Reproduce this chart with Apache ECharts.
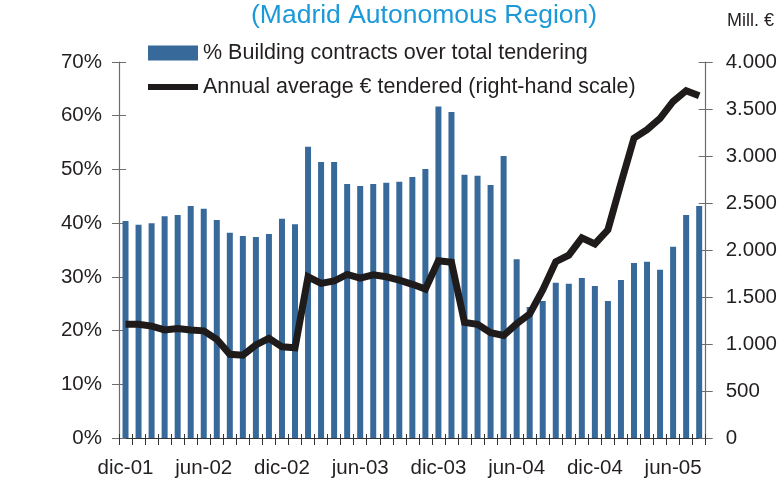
<!DOCTYPE html>
<html>
<head>
<meta charset="utf-8">
<script src="https://cdn.jsdelivr.net/npm/echarts@6/dist/echarts.min.js"></script>
<style>
html,body{margin:0;padding:0;background:#fff;}
#c{width:780px;height:481px;}
</style>
</head>
<body>
<div id="c"></div>
<script>
var categories = ['dic-01','ene-02','feb-02','mar-02','abr-02','may-02','jun-02','jul-02','ago-02','sep-02','oct-02','nov-02',
  'dic-02','ene-03','feb-03','mar-03','abr-03','may-03','jun-03','jul-03','ago-03','sep-03','oct-03','nov-03',
  'dic-03','ene-04','feb-04','mar-04','abr-04','may-04','jun-04','jul-04','ago-04','sep-04','oct-04','nov-04',
  'dic-04','ene-05','feb-05','mar-05','abr-05','may-05','jun-05','jul-05','ago-05'];
var pctBuilding = [40.4,39.7,40.0,41.3,41.5,43.2,42.7,40.6,38.2,37.6,37.4,38.0,40.8,39.8,54.2,51.4,
  51.4,47.3,46.9,47.3,47.5,47.7,48.6,50.1,61.7,60.7,49.0,48.8,47.1,52.5,
  33.3,24.4,25.5,28.9,28.7,29.8,28.3,25.5,29.4,32.6,32.8,31.3,35.6,41.5,43.2];
var avgTendered = [1210,1210,1190,1150,1165,1150,1140,1050,890,880,990,1060,970,960,
  1715,1645,1670,1740,1700,1735,1715,1680,1635,1585,1885,1870,1230,1210,1120,1090,
  1215,1320,1575,1875,1945,2130,2065,2215,2710,3190,3280,3400,3580,3695,3640];
var titleText = '(Madrid Autonomous Region)';
var barName = '% Building contracts over total tendering';
var lineName = 'Annual average \u20AC tendered (right-hand scale)';
var rightUnit = 'Mill. \u20AC';

var FONT = 'Liberation Sans, Arial, Helvetica, sans-serif';
var TXT = '#231f20';
var BAR = '#37699a';
var LINE = '#1f1b1b';
var AX = '#6d6d6d';

function fmtThousands(v){
  var s = String(Math.round(v));
  return s.replace(/\B(?=(\d{3})+(?!\d))/g, '.');
}

var chart = echarts.init(document.getElementById('c'));
var grid = {left:119, right:74, top:62, bottom:43};
chart.setOption({
  animation:false,
  backgroundColor:'#fff',
  textStyle:{fontFamily:FONT},
  title:{text:titleText, left:251, top:2, padding:0,
    textStyle:{color:'#1c9ad8', fontSize:26.5, fontWeight:'normal', fontFamily:FONT}},
  graphic:[{type:'text', left:727, top:12, style:{text:rightUnit, fill:TXT, font:'18px ' + FONT}}],
  legend:[
    {data:[{name:barName, icon:'rect'}], left:148, top:42, padding:0, itemWidth:50, itemHeight:15, itemGap:5,
      textStyle:{color:TXT, fontSize:21.5, fontFamily:FONT}, selectedMode:false},
    {data:[{name:lineName, icon:'rect', itemStyle:{color:LINE}}], left:148, top:76, padding:0, itemWidth:50, itemHeight:6, itemGap:5,
      textStyle:{color:TXT, fontSize:21.5, fontFamily:FONT}, selectedMode:false}
  ],
  grid:grid,
  xAxis:[
    {type:'category', data:categories, boundaryGap:true,
      axisLine:{lineStyle:{color:'#333', width:1.2}},
      axisTick:{show:true, interval:0, length:7, lineStyle:{color:'#333'}},
      axisLabel:{interval:5, margin:20, color:TXT, fontSize:20.5, fontFamily:FONT}},
    {type:'category', data:categories, boundaryGap:true, position:'bottom',
      axisLine:{show:false}, axisLabel:{show:false},
      axisTick:{show:true, inside:true, interval:0, length:4, lineStyle:{color:'#333'}}}
  ],
  yAxis:[
    {type:'value', min:0, max:70, interval:10, position:'left',
      axisLine:{show:true, lineStyle:{color:AX, width:1.2}},
      axisTick:{show:true, length:7, lineStyle:{color:AX}},
      splitLine:{show:false},
      axisLabel:{margin:17, color:TXT, fontSize:20.5, fontFamily:FONT, formatter:function(v){return v+'%';}}},
    {type:'value', min:0, max:4000, interval:500, position:'right',
      axisLine:{show:true, lineStyle:{color:AX, width:1.2}},
      axisTick:{show:true, length:7, lineStyle:{color:AX}},
      splitLine:{show:false},
      axisLabel:{margin:20, color:TXT, fontSize:20.5, fontFamily:FONT, formatter:fmtThousands}},
    {type:'value', min:0, max:70, interval:10, position:'left',
      axisLine:{show:false}, axisLabel:{show:false}, splitLine:{show:false},
      axisTick:{show:true, inside:true, length:7, lineStyle:{color:AX}}},
    {type:'value', min:0, max:4000, interval:500, position:'right',
      axisLine:{show:false}, axisLabel:{show:false}, splitLine:{show:false},
      axisTick:{show:true, inside:true, length:7, lineStyle:{color:AX}}}
  ],
  series:[
    {name:barName, type:'bar', xAxisIndex:0, yAxisIndex:0, data:pctBuilding, barWidth:6,
      itemStyle:{color:BAR}},
    {name:lineName, type:'line', xAxisIndex:0, yAxisIndex:1, data:avgTendered, showSymbol:false, symbol:'none',
      lineStyle:{color:LINE, width:7, cap:'butt', join:'miter'}, itemStyle:{color:LINE}, z:5}
  ]
});
</script>
</body>
</html>
